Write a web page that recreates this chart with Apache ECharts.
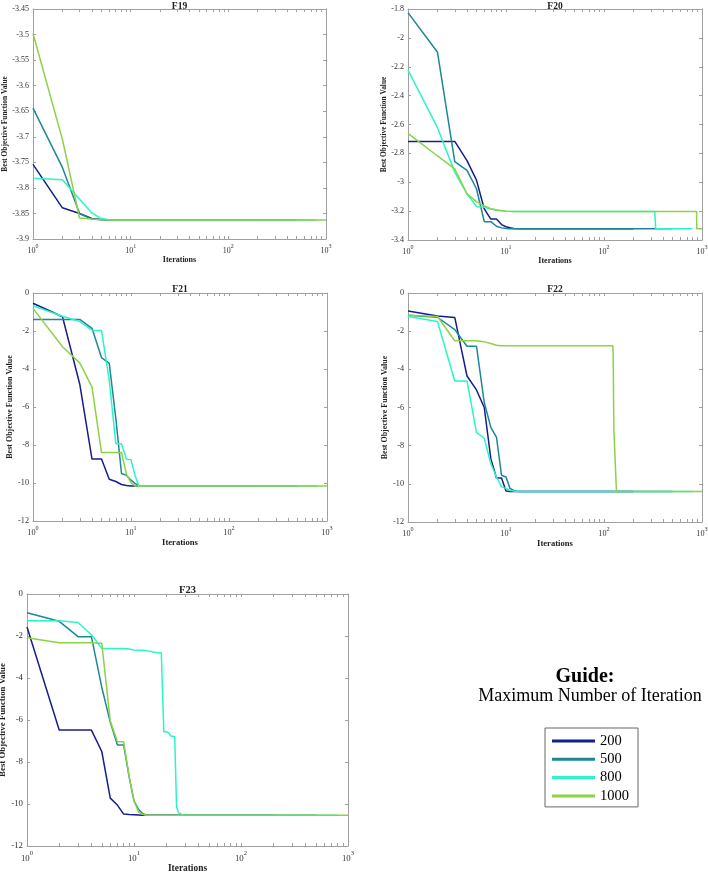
<!DOCTYPE html>
<html><head><meta charset="utf-8">
<script src="https://cdn.jsdelivr.net/npm/echarts@6/dist/echarts.min.js"></script>
<style>html,body{margin:0;padding:0;background:#fff}#c{width:708px;height:873px}</style>
</head><body><div id="c"></div>
<script>
// ---------------- data ----------------
const seriesNames = ['200', '500', '800', '1000'];
const panelTitles = ['F19', 'F20', 'F21', 'F22', 'F23'];
const xMajorTicks = [1, 10, 100, 1000];
const xMinorTicks = [1,2,3,4,5,6,7,8,9,10,20,30,40,50,60,70,80,90,100,200,300,400,500,600,700,800,900,1000];
const yMins = [-3.9, -3.4, -12, -12, -12];
const yMaxs = [-3.45, -1.8, 0, 0, 0];
const yIntervals = [0.05, 0.2, 2, 2, 2];

// [iteration, best value]
const F19_200  = [[1,-3.754],[2,-3.839],[3,-3.850],[4,-3.860],[5,-3.862],[6,-3.8628],[200,-3.8628]];
const F19_500  = [[1,-3.644],[2,-3.76],[3,-3.85],[4,-3.861],[5,-3.8625],[6,-3.8628],[500,-3.8628]];
const F19_800  = [[1,-3.781],[2,-3.784],[3,-3.822],[4,-3.849],[5,-3.860],[6,-3.8625],[7,-3.8628],[800,-3.8628]];
const F19_1000 = [[1,-3.498],[2,-3.705],[3,-3.859],[4,-3.861],[5,-3.862],[6,-3.8628],[1000,-3.8628]];

const F20_200  = [[1,-2.717],[2,-2.717],[3,-2.717],[4,-2.85],[5,-2.985],[6,-3.185],[7,-3.255],[8,-3.255],[9,-3.293],[10,-3.308],[11,-3.315],[12,-3.32],[14,-3.3224],[200,-3.3224]];
const F20_500  = [[1,-1.825],[2,-2.10],[3,-2.857],[4,-2.918],[5,-3.045],[6,-3.273],[7,-3.273],[8,-3.305],[9,-3.316],[10,-3.32],[11,-3.3224],[500,-3.3224]];
const F20_800  = [[1,-2.223],[2,-2.622],[3,-2.93],[4,-3.08],[5,-3.169],[6,-3.174],[7,-3.185],[8,-3.192],[9,-3.197],[10,-3.2],[12,-3.2032],[330,-3.2032],[331,-3.215],[336,-3.215],[337,-3.3224],[800,-3.3224]];
const F20_1000 = [[1,-2.661],[2,-2.818],[3,-2.907],[4,-3.08],[5,-3.134],[6,-3.164],[7,-3.183],[8,-3.192],[9,-3.197],[10,-3.2],[12,-3.2032],[880,-3.2032],[885,-3.3224],[1000,-3.3224]];

const F21_200  = [[1,-0.54],[2,-1.25],[3,-4.8],[4,-8.74],[5,-8.74],[6,-9.8],[7,-9.92],[8,-10.08],[9,-10.13],[10,-10.1532],[200,-10.1532]];
const F21_500  = [[1,-1.39],[2,-1.39],[3,-1.39],[4,-1.86],[5,-3.4],[6,-3.7],[7,-6.6],[8,-9.5],[9,-9.6],[10,-9.85],[11,-10.02],[12,-10.1532],[500,-10.1532]];
const F21_800  = [[1,-0.67],[2,-1.22],[3,-1.5],[4,-1.97],[5,-1.97],[6,-4.6],[7,-7.93],[8,-7.93],[9,-8.75],[10,-8.78],[11,-9.6],[12,-10.1532],[800,-10.1532]];
const F21_1000 = [[1,-0.81],[2,-2.83],[3,-3.68],[4,-4.95],[5,-8.4],[6,-8.4],[7,-8.4],[8,-8.4],[9,-9.55],[10,-9.98],[11,-10.1532],[1000,-10.1532]];

const F22_200  = [[1,-0.94],[2,-1.2],[3,-1.28],[4,-4.35],[5,-5.08],[6,-6.0],[7,-8.68],[8,-9.69],[9,-9.69],[10,-10.38],[11,-10.4029],[200,-10.4029]];
const F22_500  = [[1,-1.16],[2,-1.27],[3,-1.92],[4,-2.79],[5,-2.79],[6,-5.74],[7,-7.04],[8,-7.56],[9,-9.55],[10,-9.64],[11,-10.24],[12,-10.35],[13,-10.4029],[500,-10.4029]];
const F22_800  = [[1,-1.23],[2,-1.49],[3,-4.61],[4,-4.61],[5,-7.3],[6,-7.61],[7,-8.94],[8,-9.64],[9,-10.16],[10,-10.24],[11,-10.35],[13,-10.4029],[800,-10.4029]];
const F22_1000 = [[1,-1.16],[2,-1.23],[3,-2.5],[4,-2.5],[5,-2.5],[6,-2.56],[7,-2.65],[8,-2.74],[9,-2.76],[123,-2.76],[124,-3.15],[125,-3.2],[126,-7.1],[127,-7.5],[128,-7.6],[134,-10.4029],[1000,-10.4029]];

const F23_200  = [[1,-1.57],[2,-6.48],[3,-6.48],[4,-6.48],[5,-7.5],[6,-9.72],[7,-10.05],[8,-10.48],[9,-10.5],[10,-10.51],[12,-10.5364],[200,-10.5364]];
const F23_500  = [[1,-0.89],[2,-1.3],[3,-2.03],[4,-2.03],[5,-4.45],[6,-6.1],[7,-7.19],[8,-7.19],[9,-8.7],[10,-9.85],[11,-10.25],[12,-10.45],[13,-10.5364],[500,-10.5364]];
const F23_800  = [[1,-1.27],[2,-1.27],[3,-1.36],[4,-1.94],[5,-2.59],[6,-2.59],[7,-2.59],[8,-2.59],[9,-2.62],[10,-2.67],[12,-2.68],[13,-2.7],[14,-2.72],[15,-2.76],[16,-2.78],[17,-2.8],[18,-2.8],[19,-6.56],[20,-6.56],[21,-6.6],[22,-6.76],[24,-6.8],[25,-10.13],[26,-10.41],[28,-10.5],[30,-10.5364],[800,-10.5364]];
const F23_1000 = [[1,-2.08],[2,-2.32],[3,-2.32],[4,-2.32],[5,-2.35],[6,-6.05],[7,-7.03],[8,-7.03],[9,-8.7],[10,-9.85],[11,-10.37],[12,-10.49],[13,-10.5364],[1000,-10.5364]];

const panelData = [
  [F19_200, F19_500, F19_800, F19_1000],
  [F20_200, F20_500, F20_800, F20_1000],
  [F21_200, F21_500, F21_800, F21_1000],
  [F22_200, F22_500, F22_800, F22_1000],
  [F23_200, F23_500, F23_800, F23_1000]
];

// ---------------- styles / layout ----------------
const colors = ['#141e8c', '#1e8696', '#2af5c8', '#8cd246'];
const FONT = '"Liberation Serif", "Times New Roman", serif';
const frame = '#a0a0a0';
const layout = [
  {left:33,  top:9,   width:293, height:230, fs:8,   nameFs:7.4, titleFs:9.5, yGap:21, xGap:16, tGap:-3},
  {left:408, top:9,   width:294, height:231, fs:8,   nameFs:7.4, titleFs:9.5, yGap:15, xGap:16, tGap:-3},
  {left:33,  top:293, width:294, height:228, fs:8.2, nameFs:8,   titleFs:9.5, yGap:14, xGap:16, tGap:-2},
  {left:408, top:293, width:294, height:229, fs:8.2, nameFs:8,   titleFs:9.5, yGap:14, xGap:16, tGap:-2},
  {left:27,  top:594, width:321, height:252, fs:8.8, nameFs:8.8, titleFs:10.5, yGap:17, xGap:18, tGap:-2}
];

const grids = [], xAxes = [], yAxes = [], series = [];
layout.forEach((L, i) => {
  grids.push({left: L.left, top: L.top, width: L.width, height: L.height, containLabel: false, outerBoundsMode: 'none'});
  const lab = {fontFamily: FONT, fontSize: L.fs, color: '#333'};
  xAxes.push({
    type: 'log', logBase: 10, min: 1, max: 1000, gridIndex: i, position: 'bottom',
    axisLine: {show: true, onZero: false, lineStyle: {color: frame, width: 1}},
    axisTick: {show: true, inside: true, length: 3, customValues: xMinorTicks, lineStyle: {color: frame}},
    axisLabel: {
      customValues: xMajorTicks, margin: 4,
      formatter: v => '{b|10}{s|' + Math.round(Math.log10(v)) + '}',
      rich: {
        b: {fontFamily: FONT, fontSize: L.fs, color: '#333', lineHeight: L.fs * 1.5, verticalAlign: 'bottom'},
        s: {fontFamily: FONT, fontSize: L.fs * 0.75, color: '#333', lineHeight: L.fs * 1.5, verticalAlign: 'top'}
      }
    },
    splitLine: {show: false},
    name: 'Iterations', nameLocation: 'middle', nameGap: L.xGap,
    nameTextStyle: {fontFamily: FONT, fontWeight: 'bold', fontSize: L.nameFs + 0.6, color: '#222'}
  });
  xAxes.push({
    type: 'log', logBase: 10, min: 1, max: 1000, gridIndex: i, position: 'top',
    axisLine: {show: true, onZero: false, lineStyle: {color: frame, width: 1}},
    axisTick: {show: true, inside: true, length: 3, customValues: xMinorTicks, lineStyle: {color: frame}},
    axisLabel: {show: false},
    splitLine: {show: false},
    name: panelTitles[i], nameLocation: 'middle', nameGap: L.tGap,
    nameTextStyle: {fontFamily: FONT, fontWeight: 'bold', fontSize: L.titleFs, color: '#222'}
  });
  yAxes.push({
    type: 'value', gridIndex: i, position: 'left', min: yMins[i], max: yMaxs[i], interval: yIntervals[i],
    axisLine: {show: true, onZero: false, lineStyle: {color: frame, width: 1}},
    axisTick: {show: true, inside: true, length: 3, lineStyle: {color: frame}},
    axisLabel: Object.assign({margin: 4}, lab),
    splitLine: {show: false},
    name: 'Best Objective Function Value', nameLocation: 'middle', nameGap: L.yGap, nameRotate: 90,
    nameTextStyle: {fontFamily: FONT, fontWeight: 'bold', fontSize: L.nameFs, color: '#222'}
  });
  yAxes.push({
    type: 'value', gridIndex: i, position: 'right', min: yMins[i], max: yMaxs[i], interval: yIntervals[i],
    axisLine: {show: true, onZero: false, lineStyle: {color: frame, width: 1}},
    axisTick: {show: true, inside: true, length: 3, lineStyle: {color: frame}},
    axisLabel: {show: false},
    splitLine: {show: false}
  });
  panelData[i].forEach((d, j) => {
    series.push({
      type: 'line', name: seriesNames[j], xAxisIndex: 2 * i, yAxisIndex: 2 * i,
      data: d, showSymbol: false, symbol: 'none', z: 2 + j,
      lineStyle: {color: colors[j], width: 1.5}, itemStyle: {color: colors[j]},
      emphasis: {disabled: true}
    });
  });
});

const chart = echarts.init(document.getElementById('c'), null, {renderer: 'canvas'});
chart.setOption({
  animation: false,
  backgroundColor: '#fff',
  grid: grids, xAxis: xAxes, yAxis: yAxes, series: series,
  legend: {
    data: seriesNames, orient: 'vertical', left: 545, top: 728,
    icon: 'rect', itemWidth: 43, itemHeight: 3, itemGap: 2.3,
    padding: [5, 9, 3, 7], borderColor: '#666', borderWidth: 1,
    textStyle: {fontFamily: FONT, fontSize: 14.5, color: '#000', lineHeight: 16},
    selectedMode: false
  },
  graphic: [
    {type: 'text', x: 585, y: 677, style: {text: 'Guide:', font: 'bold 20px "Liberation Serif"', fill: '#000', align: 'center', verticalAlign: 'middle'}},
    {type: 'text', x: 590, y: 696, style: {text: 'Maximum Number of Iteration', font: '18px "Liberation Serif"', fill: '#000', align: 'center', verticalAlign: 'middle'}}
  ]
});
</script>
</body></html>
